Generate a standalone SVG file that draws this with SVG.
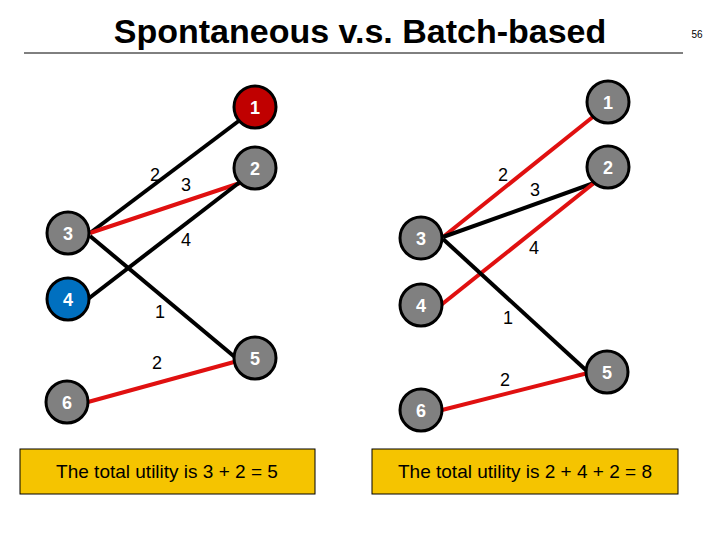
<svg xmlns="http://www.w3.org/2000/svg" width="720" height="540" viewBox="0 0 720 540">
<style>
.n{stroke:#000;stroke-width:3}
.g{fill:#808080}
.nt{font-family:"Liberation Sans",Arial,sans-serif;font-weight:bold;font-size:18px;fill:#fff;text-anchor:middle}
.e{stroke-width:4;fill:none}
.k{stroke:#000}
.r{stroke:#e01010}
.l{font-family:"Liberation Sans",Arial,sans-serif;font-size:18px;fill:#000;text-anchor:middle}
.b{fill:#f5c400;stroke:#000;stroke-width:1}
.bt{font-family:"Liberation Sans",Arial,sans-serif;font-size:19px;fill:#000;text-anchor:middle}
</style>
<rect width="720" height="540" fill="#fff"/>
<text x="360" y="43" font-family="Liberation Sans,Arial,sans-serif" font-weight="bold" font-size="34" text-anchor="middle">Spontaneous v.s. Batch-based</text>
<line x1="24" y1="53" x2="683" y2="53" stroke="#000" stroke-width="1"/>
<text x="697" y="38" font-family="Liberation Sans,Arial,sans-serif" font-size="10" text-anchor="middle">56</text>
<g id="connectors">
<line class="e k" x1="90" y1="233" x2="240" y2="120"/>
<line class="e r" x1="90" y1="233" x2="240" y2="183"/>
<line class="e k" x1="88" y1="299" x2="240" y2="182"/>
<line class="e k" x1="90" y1="236" x2="236" y2="358"/>
<line class="e r" x1="88" y1="402" x2="234" y2="362"/>
<line class="e r" x1="443" y1="237" x2="594" y2="116"/>
<line class="e k" x1="443" y1="237" x2="594" y2="183"/>
<line class="e r" x1="441" y1="305" x2="594" y2="183"/>
<line class="e k" x1="443" y1="239" x2="588" y2="372"/>
<line class="e r" x1="442" y1="410" x2="588" y2="373"/>
<text class="l" x="155" y="181">2</text>
<text class="l" x="186" y="191">3</text>
<text class="l" x="186" y="246">4</text>
<text class="l" x="160" y="318">1</text>
<text class="l" x="157" y="369">2</text>
<text class="l" x="503" y="181">2</text>
<text class="l" x="535" y="196">3</text>
<text class="l" x="534" y="254">4</text>
<text class="l" x="508" y="324">1</text>
<text class="l" x="505" y="386">2</text>
</g>
<g id="L1"><circle class="n" cx="255" cy="107" r="21" fill="#c00000"/><text class="nt" x="255" y="114">1</text></g>
<g id="L2"><circle class="n g" cx="255" cy="168" r="21"/><text class="nt" x="255" y="175">2</text></g>
<g id="L3"><circle class="n g" cx="68" cy="233" r="21"/><text class="nt" x="68" y="240">3</text></g>
<g id="L4"><circle class="n" cx="68" cy="299" r="21" fill="#0070c0"/><text class="nt" x="68" y="306">4</text></g>
<g id="L5"><circle class="n g" cx="255" cy="358" r="21"/><text class="nt" x="255" y="365">5</text></g>
<g id="L6"><circle class="n g" cx="67" cy="402" r="21"/><text class="nt" x="67" y="409">6</text></g>
<g id="R1"><circle class="n g" cx="608" cy="102" r="21"/><text class="nt" x="608" y="109">1</text></g>
<g id="R2"><circle class="n g" cx="608" cy="167" r="21"/><text class="nt" x="608" y="174">2</text></g>
<g id="R3"><circle class="n g" cx="421" cy="238" r="21"/><text class="nt" x="421" y="245">3</text></g>
<g id="R4"><circle class="n g" cx="421" cy="305" r="21"/><text class="nt" x="421" y="312">4</text></g>
<g id="R5"><circle class="n g" cx="607" cy="372" r="21"/><text class="nt" x="607" y="379">5</text></g>
<g id="R6"><circle class="n g" cx="421" cy="410" r="21"/><text class="nt" x="421" y="417">6</text></g>
<g id="boxL"><rect class="b" x="20" y="449" width="295" height="45"/><text class="bt" x="167" y="478">The total utility is 3 + 2 = 5</text></g>
<g id="boxR"><rect class="b" x="372" y="449" width="306" height="45"/><text class="bt" x="525" y="478">The total utility is 2 + 4 + 2 = 8</text></g>
</svg>
